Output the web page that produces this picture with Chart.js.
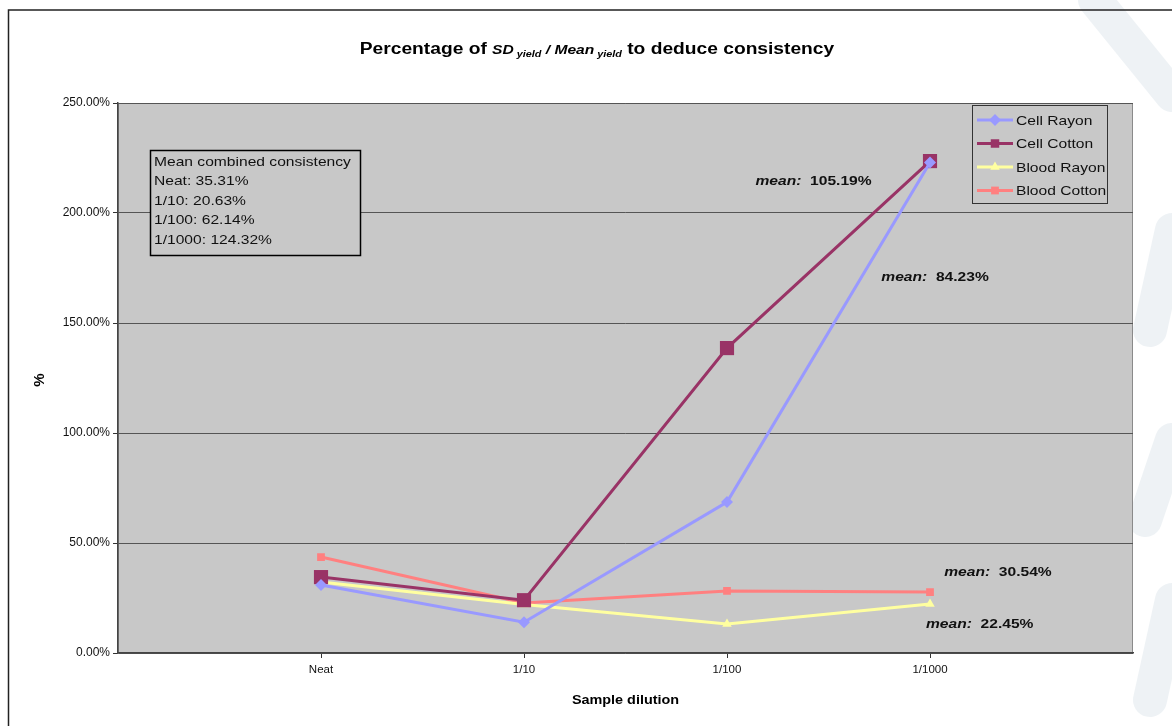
<!DOCTYPE html>
<html>
<head>
<meta charset="utf-8">
<script src="https://cdn.jsdelivr.net/npm/chart.js@4.4.1/dist/chart.umd.min.js"></script>
<style>
  html, body { margin: 0; padding: 0; background: #fff; }
  #wrap { width: 1172px; height: 726px; }
</style>
</head>
<body>
<div id="wrap"><canvas id="chart" width="1172" height="726"></canvas></div>
<script>
// categories (padded with empty slots at each end, like the Excel axis)
const dilutions = ['Neat', '1/10', '1/100', '1/1000'];
const axisLabels = ['', ...dilutions, ''];

// % SD/Mean per dilution
const cellRayon   = [30.9, 14.0, 68.6, 223.0];
const cellCotton  = [34.5, 24.0, 138.6, 223.6];
const bloodRayon  = [32.3, 22.0, 13.2, 22.3];
const bloodCotton = [43.6, 22.7, 28.2, 27.7];

const yTicks = [0, 50, 100, 150, 200, 250];

const seriesNames = ['Cell Rayon', 'Cell Cotton', 'Blood Rayon', 'Blood Cotton'];
const seriesColors = ['#9999FF', '#993366', '#FFFFA0', '#FF8080'];
const seriesMarkers = ['rectRot', 'rect', 'triangle', 'rect'];
const seriesRadius = [6, 10, 5.5, 5.5];

const combinedLines = ['Mean combined consistency', 'Neat: 35.31%', '1/10: 20.63%', '1/100: 62.14%', '1/1000: 124.32%'];
const meanLabels = [
  { text: '105.19%', x: 3.14, y: 214.5 },
  { text: '84.23%', x: 3.76, y: 170.5 },
  { text: '30.54%', x: 4.07, y: 36.4 },
  { text: '22.45%', x: 3.98, y: 13.2 },
];

const pad = arr => [null, ...arr, null];

const FONT = '"Liberation Sans", Arial, sans-serif';
const SX = 1.2; // the original text is a bit wide

// draw text stretched horizontally
function wideText(ctx, text, x, y) {
  ctx.save();
  ctx.translate(x, y);
  ctx.scale(SX, 1);
  ctx.fillText(text, 0, 0);
  ctx.restore();
}

function drawRuns(ctx, runs, cx, y) {
  let total = 0;
  runs.forEach(r => { ctx.font = r.f; r.w = ctx.measureText(r.t).width * SX; total += r.w; });
  let x = cx - total / 2;
  ctx.textBaseline = 'alphabetic';
  ctx.textAlign = 'left';
  runs.forEach(r => { ctx.font = r.f; wideText(ctx, r.t, x, y + (r.dy || 0)); x += r.w; });
}

const frame = {
  id: 'frame',
  beforeDraw(chart) {
    const { ctx, chartArea: a } = chart;
    ctx.save();
    ctx.fillStyle = '#fff';
    ctx.fillRect(0, 0, chart.width, chart.height);
    // faint watermark on the right
    ctx.strokeStyle = 'rgba(200,212,222,0.3)';
    ctx.lineCap = 'round';
    ctx.lineWidth = 34;
    ctx.beginPath(); ctx.moveTo(1095, 0); ctx.lineTo(1172, 95); ctx.stroke();
    ctx.beginPath(); ctx.moveTo(1172, 230); ctx.lineTo(1150, 330); ctx.stroke();
    ctx.beginPath(); ctx.moveTo(1172, 440); ctx.lineTo(1145, 520); ctx.stroke();
    ctx.beginPath(); ctx.moveTo(1172, 600); ctx.lineTo(1150, 700); ctx.stroke();
    // outer chart border
    ctx.strokeStyle = '#222';
    ctx.lineWidth = 1.5;
    ctx.beginPath();
    ctx.moveTo(1172, 10); ctx.lineTo(8.5, 10); ctx.lineTo(8.5, 726);
    ctx.stroke();
    // plot area
    ctx.fillStyle = '#C8C8C8';
    ctx.fillRect(a.left, a.top, a.right - a.left, a.bottom - a.top);
    ctx.strokeStyle = '#8a8a8a';
    ctx.lineWidth = 1;
    ctx.strokeRect(a.left + 0.5, a.top + 0.5, a.right - a.left - 1, a.bottom - a.top - 1);
    ctx.restore();
  },
  afterDraw(chart) {
    const { ctx, chartArea: a, scales } = chart;
    ctx.save();
    ctx.fillStyle = '#000';

    // title with subscripts
    drawRuns(ctx, [
      { t: 'Percentage of ', f: 'bold 16px ' + FONT },
      { t: 'SD', f: 'italic bold 13px ' + FONT },
      { t: ' yield', f: 'italic bold 9px ' + FONT, dy: 3 },
      { t: ' / ', f: 'italic bold 13px ' + FONT },
      { t: 'Mean', f: 'italic bold 13px ' + FONT },
      { t: ' yield', f: 'italic bold 9px ' + FONT, dy: 3 },
      { t: ' to deduce consistency', f: 'bold 16px ' + FONT },
    ], 597, 54);

    // axis titles
    ctx.font = 'bold 12px ' + FONT;
    ctx.textAlign = 'center';
    ctx.textBaseline = 'middle';
    wideText(ctx, 'Sample dilution', (a.left + a.right) / 2, 701);
    ctx.save();
    ctx.translate(40, 380);
    ctx.rotate(-Math.PI / 2);
    ctx.font = 'bold 15px ' + FONT;
    ctx.fillText('%', 0, 0);
    ctx.restore();

    // combined consistency box
    ctx.fillStyle = '#C8C8C8';
    ctx.fillRect(150.5, 150.5, 210, 105);
    ctx.strokeStyle = '#000';
    ctx.lineWidth = 1.5;
    ctx.strokeRect(150.5, 150.5, 210, 105);
    ctx.fillStyle = '#111';
    ctx.font = '13px ' + FONT;
    ctx.textAlign = 'left';
    ctx.textBaseline = 'middle';
    combinedLines.forEach((t, i) => wideText(ctx, t, 154, 162 + i * 19.5));

    // mean labels
    meanLabels.forEach(m => {
      const x = scales.x.getPixelForValue(m.x);
      const y = scales.y.getPixelForValue(m.y);
      ctx.font = 'italic bold 13px ' + FONT;
      wideText(ctx, 'mean:', x, y);
      const w = ctx.measureText('mean:  ').width * SX;
      ctx.font = 'bold 13px ' + FONT;
      wideText(ctx, m.text, x + w, y);
    });

    // legend
    ctx.fillStyle = '#C8C8C8';
    ctx.fillRect(972.5, 105.5, 135, 98);
    ctx.strokeStyle = '#333';
    ctx.lineWidth = 1;
    ctx.strokeRect(972.5, 105.5, 135, 98);
    seriesNames.forEach((name, i) => {
      const y = 120 + i * 23.5;
      ctx.strokeStyle = seriesColors[i];
      ctx.lineWidth = 3;
      ctx.beginPath(); ctx.moveTo(977, y); ctx.lineTo(1013, y); ctx.stroke();
      ctx.fillStyle = seriesColors[i];
      const r = Math.min(seriesRadius[i], 6);
      Chart.helpers.drawPoint(ctx, { pointStyle: seriesMarkers[i], radius: r, rotation: 0, borderWidth: 0 }, 995, y);
      ctx.fillStyle = '#111';
      ctx.font = '13px ' + FONT;
      ctx.textAlign = 'left';
      ctx.textBaseline = 'middle';
      wideText(ctx, name, 1016, y + 1);
    });
    ctx.restore();
  },
};

const series = [cellRayon, cellCotton, bloodRayon, bloodCotton];

new Chart(document.getElementById('chart'), {
  type: 'line',
  data: {
    labels: axisLabels,
    datasets: series.map((vals, i) => ({
      label: seriesNames[i],
      data: pad(vals),
      borderColor: seriesColors[i],
      backgroundColor: seriesColors[i],
      borderWidth: 3,
      pointStyle: seriesMarkers[i],
      pointRadius: seriesRadius[i],
      pointBorderWidth: 0,
      tension: 0,
      spanGaps: false,
    })),
  },
  options: {
    responsive: false,
    animation: false,
    layout: { padding: { top: 103, right: 39, left: 0, bottom: 0 } },
    plugins: {
      legend: { display: false },
      title: { display: false },
      tooltip: { enabled: false },
    },
    scales: {
      x: {
        type: 'category',
        offset: false,
        afterFit: s => { s.height = 73; },
        grid: {
          drawOnChartArea: false,
          tickLength: 5,
          tickColor: c => (c.index === 0 || c.index === axisLabels.length - 1) ? 'rgba(0,0,0,0)' : '#333',
        },
        border: { color: '#444', width: 1.5 },
        ticks: { color: '#111', font: { family: FONT, size: 11.5 }, padding: 5, maxRotation: 0, autoSkip: false },
      },
      y: {
        min: yTicks[0],
        max: yTicks[yTicks.length - 1],
        afterFit: s => { s.width = 118; },
        afterBuildTicks: s => { s.ticks = yTicks.map(v => ({ value: v })); },
        grid: { color: '#555', tickLength: 5, tickColor: '#333' },
        border: { color: '#444', width: 1.5 },
        ticks: { color: '#111', font: { family: FONT, size: 12 }, padding: 3, callback: v => v.toFixed(2) + '%' },
      },
    },
  },
  plugins: [frame],
});
</script>
</body>
</html>
